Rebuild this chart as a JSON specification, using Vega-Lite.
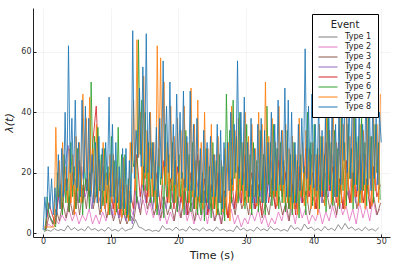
{
  "$schema": "https://vega.github.io/schema/vega-lite/v6.json",
  "width": 357,
  "height": 229,
  "autosize": {"type": "none"},
  "padding": {"left": 33, "top": 8, "right": 9, "bottom": 29},
  "background": "white",
  "config": {
    "view": {"stroke": null},
    "font": "DejaVu Sans",
    "axis": {
      "domainColor": "#222",
      "domainWidth": 1,
      "tickColor": "#222",
      "tickSize": -3,
      "labelFontSize": 8,
      "labelColor": "#333",
      "titleFontSize": 11,
      "titleFontWeight": "normal",
      "titleColor": "#222",
      "gridColor": "#000",
      "gridOpacity": 0.08,
      "gridWidth": 0.6
    }
  },
  "data": {
    "values": [
      {"t":0.15,"y":0.5,"k":1},{"t":0.65,"y":1,"k":1},{"t":1.15,"y":0.6,"k":1},{"t":1.65,"y":1.5,"k":1},{"t":2.15,"y":0.8,"k":1},{"t":2.65,"y":1.2,"k":1},{"t":3.15,"y":0.7,"k":1},{"t":3.65,"y":2.5,"k":1},{"t":4.15,"y":1,"k":1},{"t":4.65,"y":1.8,"k":1},{"t":5.15,"y":0.8,"k":1},{"t":5.65,"y":1.4,"k":1},{"t":6.15,"y":0.7,"k":1},{"t":6.65,"y":2.2,"k":1},{"t":7.15,"y":1,"k":1},{"t":7.65,"y":1.5,"k":1},{"t":8.15,"y":0.7,"k":1},{"t":8.65,"y":1.3,"k":1},{"t":9.15,"y":0.6,"k":1},{"t":9.65,"y":2,"k":1},{"t":10.15,"y":0.8,"k":1},{"t":10.65,"y":1.2,"k":1},{"t":11.15,"y":0.6,"k":1},{"t":11.65,"y":1.8,"k":1},{"t":12.15,"y":0.7,"k":1},{"t":12.65,"y":1.2,"k":1},{"t":13.15,"y":1.5,"k":1},{"t":13.65,"y":4.5,"k":1},{"t":14.15,"y":2,"k":1},{"t":14.65,"y":1.6,"k":1},{"t":15.15,"y":0.8,"k":1},{"t":15.65,"y":1.2,"k":1},{"t":16.15,"y":0.6,"k":1},{"t":16.65,"y":0.9,"k":1},{"t":17.15,"y":0.5,"k":1},{"t":17.65,"y":2.5,"k":1},{"t":18.15,"y":1.2,"k":1},{"t":18.65,"y":1.5,"k":1},{"t":19.15,"y":0.8,"k":1},{"t":19.65,"y":2,"k":1},{"t":20.15,"y":0.9,"k":1},{"t":20.65,"y":1.3,"k":1},{"t":21.15,"y":0.6,"k":1},{"t":21.65,"y":2.2,"k":1},{"t":22.15,"y":1,"k":1},{"t":22.65,"y":1.4,"k":1},{"t":23.15,"y":0.7,"k":1},{"t":23.65,"y":1.8,"k":1},{"t":24.15,"y":0.8,"k":1},{"t":24.65,"y":1.2,"k":1},{"t":25.15,"y":0.6,"k":1},{"t":25.65,"y":2,"k":1},{"t":26.15,"y":0.9,"k":1},{"t":26.65,"y":1.3,"k":1},{"t":27.15,"y":0.6,"k":1},{"t":27.65,"y":1,"k":1},{"t":28.15,"y":0.5,"k":1},{"t":28.65,"y":2.4,"k":1},{"t":29.15,"y":1,"k":1},{"t":29.65,"y":1.6,"k":1},{"t":30.15,"y":0.7,"k":1},{"t":30.65,"y":1.2,"k":1},{"t":31.15,"y":0.6,"k":1},{"t":31.65,"y":2,"k":1},{"t":32.15,"y":0.9,"k":1},{"t":32.65,"y":1.4,"k":1},{"t":33.15,"y":0.7,"k":1},{"t":33.65,"y":2.2,"k":1},{"t":34.15,"y":1,"k":1},{"t":34.65,"y":1.5,"k":1},{"t":35.15,"y":0.7,"k":1},{"t":35.65,"y":1.2,"k":1},{"t":36.15,"y":0.6,"k":1},{"t":36.65,"y":2.6,"k":1},{"t":37.15,"y":1.2,"k":1},{"t":37.65,"y":1.8,"k":1},{"t":38.15,"y":0.8,"k":1},{"t":38.65,"y":3,"k":1},{"t":39.15,"y":1.4,"k":1},{"t":39.65,"y":2,"k":1},{"t":40.15,"y":0.9,"k":1},{"t":40.65,"y":1.5,"k":1},{"t":41.15,"y":0.7,"k":1},{"t":41.65,"y":2.2,"k":1},{"t":42.15,"y":1,"k":1},{"t":42.65,"y":1.6,"k":1},{"t":43.15,"y":0.8,"k":1},{"t":43.65,"y":2.8,"k":1},{"t":44.15,"y":1.2,"k":1},{"t":44.65,"y":3.2,"k":1},{"t":45.15,"y":1.4,"k":1},{"t":45.65,"y":2,"k":1},{"t":46.15,"y":0.9,"k":1},{"t":46.65,"y":1.5,"k":1},{"t":47.15,"y":0.7,"k":1},{"t":47.65,"y":2,"k":1},{"t":48.15,"y":0.9,"k":1},{"t":48.65,"y":1.4,"k":1},{"t":49.15,"y":0.7,"k":1},{"t":49.65,"y":1.8,"k":1},

      {"t":0.3,"y":1,"k":2},{"t":0.8,"y":3,"k":2},{"t":1.3,"y":2,"k":2},{"t":1.8,"y":5,"k":2},{"t":2.3,"y":3,"k":2},{"t":2.8,"y":6,"k":2},{"t":3.3,"y":4,"k":2},{"t":3.8,"y":8,"k":2},{"t":4.3,"y":4,"k":2},{"t":4.8,"y":7,"k":2},{"t":5.3,"y":3,"k":2},{"t":5.8,"y":6,"k":2},{"t":6.3,"y":4,"k":2},{"t":6.8,"y":8,"k":2},{"t":7.3,"y":3,"k":2},{"t":7.8,"y":6,"k":2},{"t":8.3,"y":3,"k":2},{"t":8.8,"y":7,"k":2},{"t":9.3,"y":4,"k":2},{"t":9.8,"y":9,"k":2},{"t":10.3,"y":5,"k":2},{"t":10.8,"y":10,"k":2},{"t":11.3,"y":5,"k":2},{"t":11.8,"y":8,"k":2},{"t":12.3,"y":4,"k":2},{"t":12.8,"y":9,"k":2},{"t":13.3,"y":6,"k":2},{"t":13.8,"y":12,"k":2},{"t":14.3,"y":7,"k":2},{"t":14.8,"y":11,"k":2},{"t":15.3,"y":6,"k":2},{"t":15.8,"y":10,"k":2},{"t":16.3,"y":5,"k":2},{"t":16.8,"y":9,"k":2},{"t":17.3,"y":4,"k":2},{"t":17.8,"y":8,"k":2},{"t":18.3,"y":3,"k":2},{"t":18.8,"y":7,"k":2},{"t":19.3,"y":4,"k":2},{"t":19.8,"y":9,"k":2},{"t":20.3,"y":5,"k":2},{"t":20.8,"y":10,"k":2},{"t":21.3,"y":4,"k":2},{"t":21.8,"y":8,"k":2},{"t":22.3,"y":3,"k":2},{"t":22.8,"y":7,"k":2},{"t":23.3,"y":4,"k":2},{"t":23.8,"y":9,"k":2},{"t":24.3,"y":3,"k":2},{"t":24.8,"y":10,"k":2},{"t":25.3,"y":4,"k":2},{"t":25.8,"y":8,"k":2},{"t":26.3,"y":3,"k":2},{"t":26.8,"y":12,"k":2},{"t":27.3,"y":5,"k":2},{"t":27.8,"y":8,"k":2},{"t":28.3,"y":3,"k":2},{"t":28.8,"y":6,"k":2},{"t":29.3,"y":2,"k":2},{"t":29.8,"y":5,"k":2},{"t":30.3,"y":3,"k":2},{"t":30.8,"y":7,"k":2},{"t":31.3,"y":4,"k":2},{"t":31.8,"y":8,"k":2},{"t":32.3,"y":3,"k":2},{"t":32.8,"y":6,"k":2},{"t":33.3,"y":2,"k":2},{"t":33.8,"y":5,"k":2},{"t":34.3,"y":3,"k":2},{"t":34.8,"y":7,"k":2},{"t":35.3,"y":4,"k":2},{"t":35.8,"y":9,"k":2},{"t":36.3,"y":4,"k":2},{"t":36.8,"y":8,"k":2},{"t":37.3,"y":3,"k":2},{"t":37.8,"y":10,"k":2},{"t":38.3,"y":5,"k":2},{"t":38.8,"y":8,"k":2},{"t":39.3,"y":3,"k":2},{"t":39.8,"y":6,"k":2},{"t":40.3,"y":4,"k":2},{"t":40.8,"y":8,"k":2},{"t":41.3,"y":3,"k":2},{"t":41.8,"y":7,"k":2},{"t":42.3,"y":4,"k":2},{"t":42.8,"y":9,"k":2},{"t":43.3,"y":5,"k":2},{"t":43.8,"y":11,"k":2},{"t":44.3,"y":6,"k":2},{"t":44.8,"y":9,"k":2},{"t":45.3,"y":4,"k":2},{"t":45.8,"y":8,"k":2},{"t":46.3,"y":3,"k":2},{"t":46.8,"y":10,"k":2},{"t":47.3,"y":5,"k":2},{"t":47.8,"y":9,"k":2},{"t":48.3,"y":4,"k":2},{"t":48.8,"y":11,"k":2},{"t":49.3,"y":6,"k":2},{"t":49.8,"y":8,"k":2},

      {"t":0.4,"y":1,"k":3},{"t":0.9,"y":6,"k":3},{"t":1.4,"y":3,"k":3},{"t":1.9,"y":8,"k":3},{"t":2.4,"y":4,"k":3},{"t":2.9,"y":10,"k":3},{"t":3.4,"y":5,"k":3},{"t":3.9,"y":12,"k":3},{"t":4.4,"y":6,"k":3},{"t":4.9,"y":14,"k":3},{"t":5.4,"y":6,"k":3},{"t":5.9,"y":16,"k":3},{"t":6.4,"y":8,"k":3},{"t":6.9,"y":20,"k":3},{"t":7.4,"y":8,"k":3},{"t":7.9,"y":14,"k":3},{"t":8.4,"y":6,"k":3},{"t":8.9,"y":12,"k":3},{"t":9.4,"y":5,"k":3},{"t":9.9,"y":10,"k":3},{"t":10.4,"y":4,"k":3},{"t":10.9,"y":8,"k":3},{"t":11.4,"y":3,"k":3},{"t":11.9,"y":7,"k":3},{"t":12.4,"y":3,"k":3},{"t":12.9,"y":6,"k":3},{"t":13.4,"y":4,"k":3},{"t":13.9,"y":12,"k":3},{"t":14.4,"y":6,"k":3},{"t":14.9,"y":16,"k":3},{"t":15.4,"y":8,"k":3},{"t":15.9,"y":12,"k":3},{"t":16.4,"y":6,"k":3},{"t":16.9,"y":10,"k":3},{"t":17.4,"y":5,"k":3},{"t":17.9,"y":12,"k":3},{"t":18.4,"y":6,"k":3},{"t":18.9,"y":10,"k":3},{"t":19.4,"y":4,"k":3},{"t":19.9,"y":12,"k":3},{"t":20.4,"y":5,"k":3},{"t":20.9,"y":14,"k":3},{"t":21.4,"y":6,"k":3},{"t":21.9,"y":10,"k":3},{"t":22.4,"y":4,"k":3},{"t":22.9,"y":12,"k":3},{"t":23.4,"y":6,"k":3},{"t":23.9,"y":14,"k":3},{"t":24.4,"y":7,"k":3},{"t":24.9,"y":10,"k":3},{"t":25.4,"y":4,"k":3},{"t":25.9,"y":8,"k":3},{"t":26.4,"y":3,"k":3},{"t":26.9,"y":10,"k":3},{"t":27.4,"y":5,"k":3},{"t":27.9,"y":12,"k":3},{"t":28.4,"y":6,"k":3},{"t":28.9,"y":14,"k":3},{"t":29.4,"y":8,"k":3},{"t":29.9,"y":12,"k":3},{"t":30.4,"y":6,"k":3},{"t":30.9,"y":16,"k":3},{"t":31.4,"y":8,"k":3},{"t":31.9,"y":12,"k":3},{"t":32.4,"y":5,"k":3},{"t":32.9,"y":10,"k":3},{"t":33.4,"y":6,"k":3},{"t":33.9,"y":14,"k":3},{"t":34.4,"y":8,"k":3},{"t":34.9,"y":12,"k":3},{"t":35.4,"y":6,"k":3},{"t":35.9,"y":10,"k":3},{"t":36.4,"y":4,"k":3},{"t":36.9,"y":16,"k":3},{"t":37.4,"y":8,"k":3},{"t":37.9,"y":20,"k":3},{"t":38.4,"y":10,"k":3},{"t":38.9,"y":14,"k":3},{"t":39.4,"y":6,"k":3},{"t":39.9,"y":12,"k":3},{"t":40.4,"y":8,"k":3},{"t":40.9,"y":16,"k":3},{"t":41.4,"y":10,"k":3},{"t":41.9,"y":14,"k":3},{"t":42.4,"y":8,"k":3},{"t":42.9,"y":12,"k":3},{"t":43.4,"y":6,"k":3},{"t":43.9,"y":16,"k":3},{"t":44.4,"y":8,"k":3},{"t":44.9,"y":14,"k":3},{"t":45.4,"y":10,"k":3},{"t":45.9,"y":18,"k":3},{"t":46.4,"y":8,"k":3},{"t":46.9,"y":14,"k":3},{"t":47.4,"y":10,"k":3},{"t":47.9,"y":16,"k":3},{"t":48.4,"y":8,"k":3},{"t":48.9,"y":12,"k":3},{"t":49.4,"y":6,"k":3},{"t":49.9,"y":10,"k":3},

      {"t":0.2,"y":1,"k":4},{"t":0.7,"y":8,"k":4},{"t":1.2,"y":4,"k":4},{"t":1.7,"y":3,"k":4},{"t":2.2,"y":12,"k":4},{"t":2.7,"y":8,"k":4},{"t":3.2,"y":22,"k":4},{"t":3.7,"y":29,"k":4},{"t":4.2,"y":14,"k":4},{"t":4.7,"y":18,"k":4},{"t":5.2,"y":10,"k":4},{"t":5.7,"y":22,"k":4},{"t":6.2,"y":12,"k":4},{"t":6.7,"y":16,"k":4},{"t":7.2,"y":8,"k":4},{"t":7.7,"y":18,"k":4},{"t":8.2,"y":10,"k":4},{"t":8.7,"y":14,"k":4},{"t":9.2,"y":8,"k":4},{"t":9.7,"y":16,"k":4},{"t":10.2,"y":6,"k":4},{"t":10.7,"y":12,"k":4},{"t":11.2,"y":5,"k":4},{"t":11.7,"y":10,"k":4},{"t":12.2,"y":4,"k":4},{"t":12.7,"y":8,"k":4},{"t":13.2,"y":3,"k":4},{"t":13.7,"y":14,"k":4},{"t":14.2,"y":8,"k":4},{"t":14.7,"y":16,"k":4},{"t":15.2,"y":10,"k":4},{"t":15.7,"y":18,"k":4},{"t":16.2,"y":8,"k":4},{"t":16.7,"y":14,"k":4},{"t":17.2,"y":6,"k":4},{"t":17.7,"y":12,"k":4},{"t":18.2,"y":8,"k":4},{"t":18.7,"y":16,"k":4},{"t":19.2,"y":10,"k":4},{"t":19.7,"y":20,"k":4},{"t":20.2,"y":8,"k":4},{"t":20.7,"y":14,"k":4},{"t":21.2,"y":6,"k":4},{"t":21.7,"y":16,"k":4},{"t":22.2,"y":8,"k":4},{"t":22.7,"y":18,"k":4},{"t":23.2,"y":10,"k":4},{"t":23.7,"y":14,"k":4},{"t":24.2,"y":6,"k":4},{"t":24.7,"y":12,"k":4},{"t":25.2,"y":8,"k":4},{"t":25.7,"y":18,"k":4},{"t":26.2,"y":10,"k":4},{"t":26.7,"y":14,"k":4},{"t":27.2,"y":6,"k":4},{"t":27.7,"y":12,"k":4},{"t":28.2,"y":8,"k":4},{"t":28.7,"y":16,"k":4},{"t":29.2,"y":10,"k":4},{"t":29.7,"y":20,"k":4},{"t":30.2,"y":12,"k":4},{"t":30.7,"y":16,"k":4},{"t":31.2,"y":8,"k":4},{"t":31.7,"y":22,"k":4},{"t":32.2,"y":12,"k":4},{"t":32.7,"y":26,"k":4},{"t":33.2,"y":14,"k":4},{"t":33.7,"y":24,"k":4},{"t":34.2,"y":12,"k":4},{"t":34.7,"y":28,"k":4},{"t":35.2,"y":14,"k":4},{"t":35.7,"y":22,"k":4},{"t":36.2,"y":10,"k":4},{"t":36.7,"y":20,"k":4},{"t":37.2,"y":8,"k":4},{"t":37.7,"y":18,"k":4},{"t":38.2,"y":10,"k":4},{"t":38.7,"y":22,"k":4},{"t":39.2,"y":12,"k":4},{"t":39.7,"y":26,"k":4},{"t":40.2,"y":14,"k":4},{"t":40.7,"y":22,"k":4},{"t":41.2,"y":10,"k":4},{"t":41.7,"y":20,"k":4},{"t":42.2,"y":12,"k":4},{"t":42.7,"y":26,"k":4},{"t":43.2,"y":14,"k":4},{"t":43.7,"y":30,"k":4},{"t":44.2,"y":16,"k":4},{"t":44.7,"y":24,"k":4},{"t":45.2,"y":12,"k":4},{"t":45.7,"y":20,"k":4},{"t":46.2,"y":10,"k":4},{"t":46.7,"y":24,"k":4},{"t":47.2,"y":14,"k":4},{"t":47.7,"y":26,"k":4},{"t":48.2,"y":12,"k":4},{"t":48.7,"y":22,"k":4},{"t":49.2,"y":14,"k":4},{"t":49.7,"y":24,"k":4},

      {"t":0.35,"y":1,"k":5},{"t":0.85,"y":10,"k":5},{"t":1.35,"y":6,"k":5},{"t":1.85,"y":3,"k":5},{"t":2.35,"y":14,"k":5},{"t":2.85,"y":8,"k":5},{"t":3.35,"y":18,"k":5},{"t":3.85,"y":7,"k":5},{"t":4.35,"y":20,"k":5},{"t":4.85,"y":8,"k":5},{"t":5.35,"y":24,"k":5},{"t":5.85,"y":10,"k":5},{"t":6.35,"y":18,"k":5},{"t":6.85,"y":12,"k":5},{"t":7.35,"y":30,"k":5},{"t":7.85,"y":42,"k":5},{"t":8.35,"y":16,"k":5},{"t":8.85,"y":22,"k":5},{"t":9.35,"y":10,"k":5},{"t":9.85,"y":20,"k":5},{"t":10.35,"y":8,"k":5},{"t":10.85,"y":18,"k":5},{"t":11.35,"y":6,"k":5},{"t":11.85,"y":16,"k":5},{"t":12.35,"y":5,"k":5},{"t":12.85,"y":14,"k":5},{"t":13.35,"y":8,"k":5},{"t":13.85,"y":26,"k":5},{"t":14.35,"y":12,"k":5},{"t":14.85,"y":22,"k":5},{"t":15.35,"y":10,"k":5},{"t":15.85,"y":28,"k":5},{"t":16.35,"y":12,"k":5},{"t":16.85,"y":20,"k":5},{"t":17.35,"y":8,"k":5},{"t":17.85,"y":24,"k":5},{"t":18.35,"y":10,"k":5},{"t":18.85,"y":18,"k":5},{"t":19.35,"y":8,"k":5},{"t":19.85,"y":22,"k":5},{"t":20.35,"y":10,"k":5},{"t":20.85,"y":18,"k":5},{"t":21.35,"y":6,"k":5},{"t":21.85,"y":20,"k":5},{"t":22.35,"y":8,"k":5},{"t":22.85,"y":26,"k":5},{"t":23.35,"y":10,"k":5},{"t":23.85,"y":18,"k":5},{"t":24.35,"y":6,"k":5},{"t":24.85,"y":16,"k":5},{"t":25.35,"y":8,"k":5},{"t":25.85,"y":20,"k":5},{"t":26.35,"y":10,"k":5},{"t":26.85,"y":14,"k":5},{"t":27.35,"y":5,"k":5},{"t":27.85,"y":18,"k":5},{"t":28.35,"y":8,"k":5},{"t":28.85,"y":22,"k":5},{"t":29.35,"y":10,"k":5},{"t":29.85,"y":26,"k":5},{"t":30.35,"y":12,"k":5},{"t":30.85,"y":20,"k":5},{"t":31.35,"y":8,"k":5},{"t":31.85,"y":16,"k":5},{"t":32.35,"y":6,"k":5},{"t":32.85,"y":22,"k":5},{"t":33.35,"y":10,"k":5},{"t":33.85,"y":18,"k":5},{"t":34.35,"y":8,"k":5},{"t":34.85,"y":24,"k":5},{"t":35.35,"y":12,"k":5},{"t":35.85,"y":20,"k":5},{"t":36.35,"y":8,"k":5},{"t":36.85,"y":16,"k":5},{"t":37.35,"y":6,"k":5},{"t":37.85,"y":22,"k":5},{"t":38.35,"y":10,"k":5},{"t":38.85,"y":28,"k":5},{"t":39.35,"y":12,"k":5},{"t":39.85,"y":20,"k":5},{"t":40.35,"y":8,"k":5},{"t":40.85,"y":26,"k":5},{"t":41.35,"y":12,"k":5},{"t":41.85,"y":30,"k":5},{"t":42.35,"y":14,"k":5},{"t":42.85,"y":22,"k":5},{"t":43.35,"y":10,"k":5},{"t":43.85,"y":18,"k":5},{"t":44.35,"y":8,"k":5},{"t":44.85,"y":24,"k":5},{"t":45.35,"y":10,"k":5},{"t":45.85,"y":20,"k":5},{"t":46.35,"y":12,"k":5},{"t":46.85,"y":26,"k":5},{"t":47.35,"y":10,"k":5},{"t":47.85,"y":18,"k":5},{"t":48.35,"y":8,"k":5},{"t":48.85,"y":22,"k":5},{"t":49.35,"y":12,"k":5},{"t":49.85,"y":16,"k":5},

      {"t":0.1,"y":1,"k":6},{"t":0.35,"y":1,"k":6},{"t":0.6,"y":12,"k":6},{"t":0.85,"y":6,"k":6},
      {"t":1.1,"y":5,"k":6},{"t":1.35,"y":4,"k":6},{"t":1.6,"y":3,"k":6},{"t":1.85,"y":2,"k":6},
      {"t":2.1,"y":20,"k":6},{"t":2.35,"y":12,"k":6},{"t":2.6,"y":16,"k":6},{"t":2.85,"y":6,"k":6},
      {"t":3.1,"y":26,"k":6},{"t":3.35,"y":10,"k":6},{"t":3.6,"y":18,"k":6},{"t":3.85,"y":7,"k":6},
      {"t":4.1,"y":30,"k":6},{"t":4.35,"y":12,"k":6},{"t":4.6,"y":22,"k":6},{"t":4.85,"y":8,"k":6},
      {"t":5.1,"y":28,"k":6},{"t":5.35,"y":10,"k":6},{"t":5.6,"y":20,"k":6},{"t":5.85,"y":6,"k":6},
      {"t":6.1,"y":24,"k":6},{"t":6.35,"y":14,"k":6},{"t":6.6,"y":18,"k":6},{"t":6.85,"y":8,"k":6},
      {"t":7.1,"y":50,"k":6},{"t":7.35,"y":20,"k":6},{"t":7.6,"y":32,"k":6},{"t":7.85,"y":12,"k":6},
      {"t":8.1,"y":35,"k":6},{"t":8.35,"y":14,"k":6},{"t":8.6,"y":26,"k":6},{"t":8.85,"y":9,"k":6},
      {"t":9.1,"y":28,"k":6},{"t":9.35,"y":10,"k":6},{"t":9.6,"y":22,"k":6},{"t":9.85,"y":6,"k":6},
      {"t":10.1,"y":32,"k":6},{"t":10.35,"y":12,"k":6},{"t":10.6,"y":24,"k":6},{"t":10.85,"y":7,"k":6},
      {"t":11.1,"y":35,"k":6},{"t":11.35,"y":8,"k":6},{"t":11.6,"y":26,"k":6},{"t":11.85,"y":6,"k":6},
      {"t":12.1,"y":26,"k":6},{"t":12.35,"y":5,"k":6},{"t":12.6,"y":18,"k":6},{"t":12.85,"y":4,"k":6},
      {"t":13.1,"y":30,"k":6},{"t":13.35,"y":22,"k":6},{"t":13.6,"y":24,"k":6},{"t":13.85,"y":10,"k":6},
      {"t":14.1,"y":64,"k":6},{"t":14.35,"y":26,"k":6},{"t":14.6,"y":44,"k":6},{"t":14.85,"y":14,"k":6},
      {"t":15.1,"y":40,"k":6},{"t":15.35,"y":14,"k":6},{"t":15.6,"y":30,"k":6},{"t":15.85,"y":10,"k":6},
      {"t":16.1,"y":30,"k":6},{"t":16.35,"y":10,"k":6},{"t":16.6,"y":24,"k":6},{"t":16.85,"y":6,"k":6},
      {"t":17.1,"y":28,"k":6},{"t":17.35,"y":16,"k":6},{"t":17.6,"y":22,"k":6},{"t":17.85,"y":5,"k":6},
      {"t":18.1,"y":36,"k":6},{"t":18.35,"y":12,"k":6},{"t":18.6,"y":26,"k":6},{"t":18.85,"y":8,"k":6},
      {"t":19.1,"y":30,"k":6},{"t":19.35,"y":10,"k":6},{"t":19.6,"y":24,"k":6},{"t":19.85,"y":7,"k":6},
      {"t":20.1,"y":26,"k":6},{"t":20.35,"y":12,"k":6},{"t":20.6,"y":20,"k":6},{"t":20.85,"y":6,"k":6},
      {"t":21.1,"y":34,"k":6},{"t":21.35,"y":10,"k":6},{"t":21.6,"y":26,"k":6},{"t":21.85,"y":7,"k":6},
      {"t":22.1,"y":30,"k":6},{"t":22.35,"y":8,"k":6},{"t":22.6,"y":24,"k":6},{"t":22.85,"y":6,"k":6},
      {"t":23.1,"y":24,"k":6},{"t":23.35,"y":6,"k":6},{"t":23.6,"y":20,"k":6},{"t":23.85,"y":4,"k":6},
      {"t":24.1,"y":28,"k":6},{"t":24.35,"y":10,"k":6},{"t":24.6,"y":22,"k":6},{"t":24.85,"y":5,"k":6},
      {"t":25.1,"y":30,"k":6},{"t":25.35,"y":8,"k":6},{"t":25.6,"y":24,"k":6},{"t":25.85,"y":6,"k":6},
      {"t":26.1,"y":26,"k":6},{"t":26.35,"y":6,"k":6},{"t":26.6,"y":22,"k":6},{"t":26.85,"y":4,"k":6},
      {"t":27.1,"y":46,"k":6},{"t":27.35,"y":20,"k":6},{"t":27.6,"y":34,"k":6},{"t":27.85,"y":10,"k":6},
      {"t":28.1,"y":44,"k":6},{"t":28.35,"y":18,"k":6},{"t":28.6,"y":32,"k":6},{"t":28.85,"y":10,"k":6},
      {"t":29.1,"y":40,"k":6},{"t":29.35,"y":14,"k":6},{"t":29.6,"y":30,"k":6},{"t":29.85,"y":8,"k":6},
      {"t":30.1,"y":36,"k":6},{"t":30.35,"y":10,"k":6},{"t":30.6,"y":26,"k":6},{"t":30.85,"y":6,"k":6},
      {"t":31.1,"y":30,"k":6},{"t":31.35,"y":12,"k":6},{"t":31.6,"y":24,"k":6},{"t":31.85,"y":7,"k":6},
      {"t":32.1,"y":34,"k":6},{"t":32.35,"y":10,"k":6},{"t":32.6,"y":26,"k":6},{"t":32.85,"y":6,"k":6},
      {"t":33.1,"y":42,"k":6},{"t":33.35,"y":16,"k":6},{"t":33.6,"y":30,"k":6},{"t":33.85,"y":9,"k":6},
      {"t":34.1,"y":36,"k":6},{"t":34.35,"y":12,"k":6},{"t":34.6,"y":28,"k":6},{"t":34.85,"y":8,"k":6},
      {"t":35.1,"y":30,"k":6},{"t":35.35,"y":10,"k":6},{"t":35.6,"y":24,"k":6},{"t":35.85,"y":7,"k":6},
      {"t":36.1,"y":34,"k":6},{"t":36.35,"y":8,"k":6},{"t":36.6,"y":26,"k":6},{"t":36.85,"y":6,"k":6},
      {"t":37.1,"y":30,"k":6},{"t":37.35,"y":10,"k":6},{"t":37.6,"y":24,"k":6},{"t":37.85,"y":5,"k":6},
      {"t":38.1,"y":26,"k":6},{"t":38.35,"y":12,"k":6},{"t":38.6,"y":22,"k":6},{"t":38.85,"y":6,"k":6},
      {"t":39.1,"y":40,"k":6},{"t":39.35,"y":14,"k":6},{"t":39.6,"y":30,"k":6},{"t":39.85,"y":9,"k":6},
      {"t":40.1,"y":36,"k":6},{"t":40.35,"y":12,"k":6},{"t":40.6,"y":28,"k":6},{"t":40.85,"y":8,"k":6},
      {"t":41.1,"y":32,"k":6},{"t":41.35,"y":14,"k":6},{"t":41.6,"y":26,"k":6},{"t":41.85,"y":7,"k":6},
      {"t":42.1,"y":38,"k":6},{"t":42.35,"y":16,"k":6},{"t":42.6,"y":30,"k":6},{"t":42.85,"y":9,"k":6},
      {"t":43.1,"y":34,"k":6},{"t":43.35,"y":12,"k":6},{"t":43.6,"y":28,"k":6},{"t":43.85,"y":8,"k":6},
      {"t":44.1,"y":40,"k":6},{"t":44.35,"y":14,"k":6},{"t":44.6,"y":30,"k":6},{"t":44.85,"y":9,"k":6},
      {"t":45.1,"y":36,"k":6},{"t":45.35,"y":18,"k":6},{"t":45.6,"y":28,"k":6},{"t":45.85,"y":8,"k":6},
      {"t":46.1,"y":42,"k":6},{"t":46.35,"y":16,"k":6},{"t":46.6,"y":32,"k":6},{"t":46.85,"y":10,"k":6},
      {"t":47.1,"y":38,"k":6},{"t":47.35,"y":14,"k":6},{"t":47.6,"y":30,"k":6},{"t":47.85,"y":9,"k":6},
      {"t":48.1,"y":40,"k":6},{"t":48.35,"y":18,"k":6},{"t":48.6,"y":32,"k":6},{"t":48.85,"y":10,"k":6},
      {"t":49.1,"y":36,"k":6},{"t":49.35,"y":20,"k":6},{"t":49.6,"y":30,"k":6},{"t":49.85,"y":11,"k":6},

      {"t":0.125,"y":2,"k":7},{"t":0.375,"y":2,"k":7},{"t":0.625,"y":2,"k":7},{"t":0.875,"y":2,"k":7},
      {"t":1.125,"y":2,"k":7},{"t":1.375,"y":2,"k":7},{"t":1.625,"y":2,"k":7},{"t":1.875,"y":35,"k":7},
      {"t":2.125,"y":12,"k":7},{"t":2.375,"y":24,"k":7},{"t":2.625,"y":8,"k":7},{"t":2.875,"y":30,"k":7},
      {"t":3.125,"y":14,"k":7},{"t":3.375,"y":22,"k":7},{"t":3.625,"y":10,"k":7},{"t":3.875,"y":28,"k":7},
      {"t":4.125,"y":10,"k":7},{"t":4.375,"y":26,"k":7},{"t":4.625,"y":6,"k":7},{"t":4.875,"y":32,"k":7},
      {"t":5.125,"y":14,"k":7},{"t":5.375,"y":30,"k":7},{"t":5.625,"y":10,"k":7},{"t":5.875,"y":46,"k":7},
      {"t":6.125,"y":20,"k":7},{"t":6.375,"y":38,"k":7},{"t":6.625,"y":14,"k":7},{"t":6.875,"y":45,"k":7},
      {"t":7.125,"y":14,"k":7},{"t":7.375,"y":28,"k":7},{"t":7.625,"y":10,"k":7},{"t":7.875,"y":36,"k":7},
      {"t":8.125,"y":10,"k":7},{"t":8.375,"y":24,"k":7},{"t":8.625,"y":7,"k":7},{"t":8.875,"y":30,"k":7},
      {"t":9.125,"y":8,"k":7},{"t":9.375,"y":20,"k":7},{"t":9.625,"y":6,"k":7},{"t":9.875,"y":26,"k":7},
      {"t":10.125,"y":10,"k":7},{"t":10.375,"y":26,"k":7},{"t":10.625,"y":6,"k":7},{"t":10.875,"y":22,"k":7},
      {"t":11.125,"y":8,"k":7},{"t":11.375,"y":18,"k":7},{"t":11.625,"y":5,"k":7},{"t":11.875,"y":25,"k":7},
      {"t":12.125,"y":6,"k":7},{"t":12.375,"y":16,"k":7},{"t":12.625,"y":4,"k":7},{"t":12.875,"y":30,"k":7},
      {"t":13.125,"y":20,"k":7},{"t":13.375,"y":44,"k":7},{"t":13.625,"y":14,"k":7},{"t":13.875,"y":64,"k":7},
      {"t":14.125,"y":25,"k":7},{"t":14.375,"y":40,"k":7},{"t":14.625,"y":16,"k":7},{"t":14.875,"y":52,"k":7},
      {"t":15.125,"y":18,"k":7},{"t":15.375,"y":34,"k":7},{"t":15.625,"y":12,"k":7},{"t":15.875,"y":40,"k":7},
      {"t":16.125,"y":12,"k":7},{"t":16.375,"y":30,"k":7},{"t":16.625,"y":8,"k":7},{"t":16.875,"y":62,"k":7},
      {"t":17.125,"y":22,"k":7},{"t":17.375,"y":58,"k":7},{"t":17.625,"y":16,"k":7},{"t":17.875,"y":50,"k":7},
      {"t":18.125,"y":16,"k":7},{"t":18.375,"y":30,"k":7},{"t":18.625,"y":10,"k":7},{"t":18.875,"y":42,"k":7},
      {"t":19.125,"y":14,"k":7},{"t":19.375,"y":32,"k":7},{"t":19.625,"y":10,"k":7},{"t":19.875,"y":38,"k":7},
      {"t":20.125,"y":12,"k":7},{"t":20.375,"y":34,"k":7},{"t":20.625,"y":8,"k":7},{"t":20.875,"y":42,"k":7},
      {"t":21.125,"y":14,"k":7},{"t":21.375,"y":30,"k":7},{"t":21.625,"y":10,"k":7},{"t":21.875,"y":48,"k":7},
      {"t":22.125,"y":12,"k":7},{"t":22.375,"y":36,"k":7},{"t":22.625,"y":8,"k":7},{"t":22.875,"y":44,"k":7},
      {"t":23.125,"y":10,"k":7},{"t":23.375,"y":30,"k":7},{"t":23.625,"y":8,"k":7},{"t":23.875,"y":40,"k":7},
      {"t":24.125,"y":12,"k":7},{"t":24.375,"y":28,"k":7},{"t":24.625,"y":9,"k":7},{"t":24.875,"y":36,"k":7},
      {"t":25.125,"y":8,"k":7},{"t":25.375,"y":26,"k":7},{"t":25.625,"y":6,"k":7},{"t":25.875,"y":32,"k":7},
      {"t":26.125,"y":10,"k":7},{"t":26.375,"y":24,"k":7},{"t":26.625,"y":7,"k":7},{"t":26.875,"y":28,"k":7},
      {"t":27.125,"y":6,"k":7},{"t":27.375,"y":30,"k":7},{"t":27.625,"y":4,"k":7},{"t":27.875,"y":42,"k":7},
      {"t":28.125,"y":14,"k":7},{"t":28.375,"y":34,"k":7},{"t":28.625,"y":10,"k":7},{"t":28.875,"y":38,"k":7},
      {"t":29.125,"y":12,"k":7},{"t":29.375,"y":30,"k":7},{"t":29.625,"y":9,"k":7},{"t":29.875,"y":40,"k":7},
      {"t":30.125,"y":10,"k":7},{"t":30.375,"y":32,"k":7},{"t":30.625,"y":8,"k":7},{"t":30.875,"y":36,"k":7},
      {"t":31.125,"y":12,"k":7},{"t":31.375,"y":28,"k":7},{"t":31.625,"y":9,"k":7},{"t":31.875,"y":40,"k":7},
      {"t":32.125,"y":14,"k":7},{"t":32.375,"y":36,"k":7},{"t":32.625,"y":10,"k":7},{"t":32.875,"y":50,"k":7},
      {"t":33.125,"y":16,"k":7},{"t":33.375,"y":32,"k":7},{"t":33.625,"y":12,"k":7},{"t":33.875,"y":38,"k":7},
      {"t":34.125,"y":12,"k":7},{"t":34.375,"y":30,"k":7},{"t":34.625,"y":9,"k":7},{"t":34.875,"y":42,"k":7},
      {"t":35.125,"y":14,"k":7},{"t":35.375,"y":34,"k":7},{"t":35.625,"y":10,"k":7},{"t":35.875,"y":36,"k":7},
      {"t":36.125,"y":10,"k":7},{"t":36.375,"y":28,"k":7},{"t":36.625,"y":8,"k":7},{"t":36.875,"y":32,"k":7},
      {"t":37.125,"y":8,"k":7},{"t":37.375,"y":26,"k":7},{"t":37.625,"y":6,"k":7},{"t":37.875,"y":38,"k":7},
      {"t":38.125,"y":12,"k":7},{"t":38.375,"y":30,"k":7},{"t":38.625,"y":9,"k":7},{"t":38.875,"y":34,"k":7},
      {"t":39.125,"y":10,"k":7},{"t":39.375,"y":28,"k":7},{"t":39.625,"y":8,"k":7},{"t":39.875,"y":30,"k":7},
      {"t":40.125,"y":8,"k":7},{"t":40.375,"y":26,"k":7},{"t":40.625,"y":6,"k":7},{"t":40.875,"y":36,"k":7},
      {"t":41.125,"y":12,"k":7},{"t":41.375,"y":32,"k":7},{"t":41.625,"y":9,"k":7},{"t":41.875,"y":40,"k":7},
      {"t":42.125,"y":14,"k":7},{"t":42.375,"y":34,"k":7},{"t":42.625,"y":10,"k":7},{"t":42.875,"y":46,"k":7},
      {"t":43.125,"y":12,"k":7},{"t":43.375,"y":30,"k":7},{"t":43.625,"y":9,"k":7},{"t":43.875,"y":38,"k":7},
      {"t":44.125,"y":10,"k":7},{"t":44.375,"y":36,"k":7},{"t":44.625,"y":8,"k":7},{"t":44.875,"y":42,"k":7},
      {"t":45.125,"y":14,"k":7},{"t":45.375,"y":32,"k":7},{"t":45.625,"y":10,"k":7},{"t":45.875,"y":44,"k":7},
      {"t":46.125,"y":12,"k":7},{"t":46.375,"y":30,"k":7},{"t":46.625,"y":9,"k":7},{"t":46.875,"y":36,"k":7},
      {"t":47.125,"y":10,"k":7},{"t":47.375,"y":34,"k":7},{"t":47.625,"y":8,"k":7},{"t":47.875,"y":40,"k":7},
      {"t":48.125,"y":12,"k":7},{"t":48.375,"y":32,"k":7},{"t":48.625,"y":9,"k":7},{"t":48.875,"y":38,"k":7},
      {"t":49.125,"y":14,"k":7},{"t":49.375,"y":36,"k":7},{"t":49.625,"y":10,"k":7},{"t":49.875,"y":46,"k":7},

      {"t":0,"y":1,"k":8},{"t":0.25,"y":12,"k":8},{"t":0.5,"y":5,"k":8},{"t":0.75,"y":22,"k":8},
      {"t":1,"y":8,"k":8},{"t":1.25,"y":18,"k":8},{"t":1.5,"y":6,"k":8},{"t":1.75,"y":15,"k":8},
      {"t":2,"y":6,"k":8},{"t":2.25,"y":26,"k":8},{"t":2.5,"y":8,"k":8},{"t":2.75,"y":28,"k":8},
      {"t":3,"y":12,"k":8},{"t":3.25,"y":40,"k":8},{"t":3.5,"y":14,"k":8},{"t":3.75,"y":62,"k":8},
      {"t":4,"y":20,"k":8},{"t":4.25,"y":38,"k":8},{"t":4.5,"y":16,"k":8},{"t":4.75,"y":44,"k":8},
      {"t":5,"y":15,"k":8},{"t":5.25,"y":30,"k":8},{"t":5.5,"y":12,"k":8},{"t":5.75,"y":44,"k":8},
      {"t":6,"y":18,"k":8},{"t":6.25,"y":42,"k":8},{"t":6.5,"y":14,"k":8},{"t":6.75,"y":38,"k":8},
      {"t":7,"y":12,"k":8},{"t":7.25,"y":26,"k":8},{"t":7.5,"y":10,"k":8},{"t":7.75,"y":30,"k":8},
      {"t":8,"y":10,"k":8},{"t":8.25,"y":32,"k":8},{"t":8.5,"y":8,"k":8},{"t":8.75,"y":28,"k":8},
      {"t":9,"y":14,"k":8},{"t":9.25,"y":30,"k":8},{"t":9.5,"y":16,"k":8},{"t":9.75,"y":45,"k":8},
      {"t":10,"y":12,"k":8},{"t":10.25,"y":36,"k":8},{"t":10.5,"y":10,"k":8},{"t":10.75,"y":30,"k":8},
      {"t":11,"y":10,"k":8},{"t":11.25,"y":22,"k":8},{"t":11.5,"y":8,"k":8},{"t":11.75,"y":28,"k":8},
      {"t":12,"y":8,"k":8},{"t":12.25,"y":28,"k":8},{"t":12.5,"y":6,"k":8},{"t":12.75,"y":24,"k":8},
      {"t":13,"y":10,"k":8},{"t":13.25,"y":67,"k":8},{"t":13.5,"y":18,"k":8},{"t":13.75,"y":34,"k":8},
      {"t":14,"y":25,"k":8},{"t":14.25,"y":48,"k":8},{"t":14.5,"y":22,"k":8},{"t":14.75,"y":55,"k":8},
      {"t":15,"y":20,"k":8},{"t":15.25,"y":66,"k":8},{"t":15.5,"y":20,"k":8},{"t":15.75,"y":40,"k":8},
      {"t":16,"y":18,"k":8},{"t":16.25,"y":30,"k":8},{"t":16.5,"y":14,"k":8},{"t":16.75,"y":35,"k":8},
      {"t":17,"y":12,"k":8},{"t":17.25,"y":38,"k":8},{"t":17.5,"y":18,"k":8},{"t":17.75,"y":57,"k":8},
      {"t":18,"y":22,"k":8},{"t":18.25,"y":42,"k":8},{"t":18.5,"y":20,"k":8},{"t":18.75,"y":50,"k":8},
      {"t":19,"y":18,"k":8},{"t":19.25,"y":36,"k":8},{"t":19.5,"y":16,"k":8},{"t":19.75,"y":46,"k":8},
      {"t":20,"y":20,"k":8},{"t":20.25,"y":40,"k":8},{"t":20.5,"y":18,"k":8},{"t":20.75,"y":47,"k":8},
      {"t":21,"y":15,"k":8},{"t":21.25,"y":32,"k":8},{"t":21.5,"y":14,"k":8},{"t":21.75,"y":47,"k":8},
      {"t":22,"y":14,"k":8},{"t":22.25,"y":36,"k":8},{"t":22.5,"y":12,"k":8},{"t":22.75,"y":38,"k":8},
      {"t":23,"y":12,"k":8},{"t":23.25,"y":28,"k":8},{"t":23.5,"y":10,"k":8},{"t":23.75,"y":34,"k":8},
      {"t":24,"y":10,"k":8},{"t":24.25,"y":30,"k":8},{"t":24.5,"y":8,"k":8},{"t":24.75,"y":32,"k":8},
      {"t":25,"y":12,"k":8},{"t":25.25,"y":26,"k":8},{"t":25.5,"y":12,"k":8},{"t":25.75,"y":36,"k":8},
      {"t":26,"y":10,"k":8},{"t":26.25,"y":34,"k":8},{"t":26.5,"y":8,"k":8},{"t":26.75,"y":30,"k":8},
      {"t":27,"y":12,"k":8},{"t":27.25,"y":30,"k":8},{"t":27.5,"y":14,"k":8},{"t":27.75,"y":40,"k":8},
      {"t":28,"y":16,"k":8},{"t":28.25,"y":36,"k":8},{"t":28.5,"y":20,"k":8},{"t":28.75,"y":57,"k":8},
      {"t":29,"y":18,"k":8},{"t":29.25,"y":40,"k":8},{"t":29.5,"y":16,"k":8},{"t":29.75,"y":45,"k":8},
      {"t":30,"y":14,"k":8},{"t":30.25,"y":30,"k":8},{"t":30.5,"y":12,"k":8},{"t":30.75,"y":38,"k":8},
      {"t":31,"y":10,"k":8},{"t":31.25,"y":28,"k":8},{"t":31.5,"y":10,"k":8},{"t":31.75,"y":36,"k":8},
      {"t":32,"y":12,"k":8},{"t":32.25,"y":38,"k":8},{"t":32.5,"y":10,"k":8},{"t":32.75,"y":34,"k":8},
      {"t":33,"y":10,"k":8},{"t":33.25,"y":30,"k":8},{"t":33.5,"y":12,"k":8},{"t":33.75,"y":40,"k":8},
      {"t":34,"y":14,"k":8},{"t":34.25,"y":36,"k":8},{"t":34.5,"y":14,"k":8},{"t":34.75,"y":44,"k":8},
      {"t":35,"y":16,"k":8},{"t":35.25,"y":34,"k":8},{"t":35.5,"y":16,"k":8},{"t":35.75,"y":48,"k":8},
      {"t":36,"y":12,"k":8},{"t":36.25,"y":44,"k":8},{"t":36.5,"y":12,"k":8},{"t":36.75,"y":40,"k":8},
      {"t":37,"y":10,"k":8},{"t":37.25,"y":30,"k":8},{"t":37.5,"y":10,"k":8},{"t":37.75,"y":36,"k":8},
      {"t":38,"y":14,"k":8},{"t":38.25,"y":38,"k":8},{"t":38.5,"y":20,"k":8},{"t":38.75,"y":61,"k":8},
      {"t":39,"y":18,"k":8},{"t":39.25,"y":42,"k":8},{"t":39.5,"y":16,"k":8},{"t":39.75,"y":46,"k":8},
      {"t":40,"y":15,"k":8},{"t":40.25,"y":36,"k":8},{"t":40.5,"y":14,"k":8},{"t":40.75,"y":44,"k":8},
      {"t":41,"y":12,"k":8},{"t":41.25,"y":34,"k":8},{"t":41.5,"y":12,"k":8},{"t":41.75,"y":38,"k":8},
      {"t":42,"y":14,"k":8},{"t":42.25,"y":40,"k":8},{"t":42.5,"y":14,"k":8},{"t":42.75,"y":46,"k":8},
      {"t":43,"y":12,"k":8},{"t":43.25,"y":36,"k":8},{"t":43.5,"y":12,"k":8},{"t":43.75,"y":40,"k":8},
      {"t":44,"y":16,"k":8},{"t":44.25,"y":42,"k":8},{"t":44.5,"y":24,"k":8},{"t":44.75,"y":72,"k":8},
      {"t":45,"y":20,"k":8},{"t":45.25,"y":44,"k":8},{"t":45.5,"y":18,"k":8},{"t":45.75,"y":52,"k":8},
      {"t":46,"y":16,"k":8},{"t":46.25,"y":38,"k":8},{"t":46.5,"y":14,"k":8},{"t":46.75,"y":44,"k":8},
      {"t":47,"y":14,"k":8},{"t":47.25,"y":36,"k":8},{"t":47.5,"y":16,"k":8},{"t":47.75,"y":48,"k":8},
      {"t":48,"y":16,"k":8},{"t":48.25,"y":44,"k":8},{"t":48.5,"y":14,"k":8},{"t":48.75,"y":42,"k":8},
      {"t":49,"y":18,"k":8},{"t":49.25,"y":38,"k":8},{"t":49.5,"y":16,"k":8},{"t":49.75,"y":40,"k":8},
      {"t":50,"y":30,"k":8}
    ]
  },
  "mark": {"type": "line", "strokeWidth": 1, "opacity": 0.85, "clip": true},
  "encoding": {
    "x": {
      "field": "t",
      "type": "quantitative",
      "title": "Time (s)",
      "scale": {"domain": [-1.5, 51.3], "nice": false, "zero": false},
      "axis": {"values": [0, 10, 20, 30, 40, 50], "labelPadding": 3, "titlePadding": 4}
    },
    "y": {
      "field": "y",
      "type": "quantitative",
      "title": "λ(t)",
      "scale": {"domain": [-1.3, 74.5], "nice": false, "zero": false},
      "axis": {"values": [0, 20, 40, 60], "labelPadding": 5, "titleFontStyle": "italic", "titlePadding": 6}
    },
    "color": {
      "field": "k",
      "type": "nominal",
      "scale": {
        "domain": [1, 2, 3, 4, 5, 6, 7, 8],
        "range": ["#7f7f7f", "#e377c2", "#8c564b", "#9467bd", "#d62728", "#2ca02c", "#ff7f0e", "#1f77b4"]
      },
      "legend": {
        "title": "Event",
        "labelExpr": "'Type ' + datum.label",
        "orient": "none",
        "legendX": 279,
        "legendY": 6,
        "padding": 6,
        "strokeColor": "#000",
        "fillColor": "#fff",
        "titleFontSize": 10,
        "titleFontWeight": "normal",
        "titleAnchor": "middle",
        "titleColor": "#222",
        "labelFontSize": 8,
        "labelColor": "#222",
        "labelOffset": 7,
        "symbolType": "stroke",
        "symbolSize": 361,
        "symbolStrokeWidth": 1,
        "symbolOpacity": 1,
        "clipHeight": 8,
        "rowPadding": 2,
        "titlePadding": 3
      }
    }
  }
}
